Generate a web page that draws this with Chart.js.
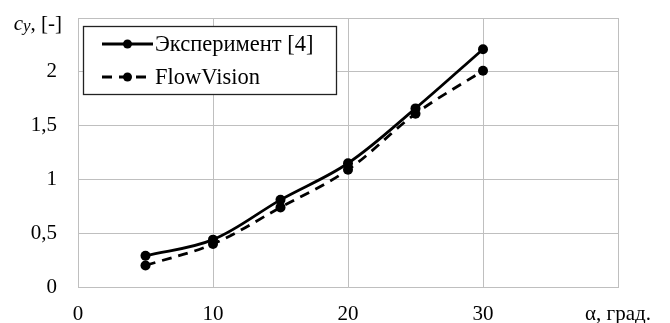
<!DOCTYPE html>
<html>
<head>
<meta charset="utf-8">
<script src="https://cdn.jsdelivr.net/npm/chart.js@4/dist/chart.umd.min.js"></script>
<style>
  html, body { margin: 0; padding: 0; background: #fff; }
  #wrap { width: 670px; height: 323px; }
</style>
</head>
<body>
<div id="wrap"><canvas id="c" width="670" height="323"></canvas></div>
<script>
// Angle of attack, degrees
const alpha = [5, 10, 15, 20, 25, 30];
// Lift coefficient c_y: experiment [4] and FlowVision computation
const cyExperiment = [0.29, 0.44, 0.81, 1.15, 1.66, 2.21];
const cyFlowVision = [0.20, 0.40, 0.74, 1.09, 1.61, 2.01];
// Axis ticks
const xTicks = [0, 10, 20, 30, 40];
const yTicks = [0, 0.5, 1, 1.5, 2, 2.5];
const seriesNames = ['Эксперимент [4]', 'FlowVision'];

const FONT = '"Liberation Serif", "Times New Roman", serif';
const FS = 21;
const LEGEND_FS = 22.5;

const toPoints = (xs, ys) => xs.map((x, i) => ({ x, y: ys[i] }));

// Legend box in the upper-left corner and the italic c_y axis title
const decorations = {
  id: 'decorations',
  afterDraw(chart) {
    const ctx = chart.ctx;
    const area = chart.chartArea;
    const yScale = chart.scales.y;
    ctx.save();

    // y-axis title in place of the top tick label
    const ty = yScale.getPixelForValue(2.5) + 6;
    const rightEdge = area.left - 16;
    ctx.textBaseline = 'middle';
    ctx.fillStyle = '#000';
    ctx.font = FS + 'px ' + FONT;
    const tail = ', [-]';
    const tailW = ctx.measureText(tail).width;
    ctx.font = 'italic ' + FS + 'px ' + FONT;
    const cW = ctx.measureText('c').width;
    ctx.font = 'italic ' + Math.round(FS * 0.8) + 'px ' + FONT;
    const yW = ctx.measureText('y').width;
    const x0 = rightEdge - tailW - yW - cW;
    ctx.textAlign = 'left';
    ctx.font = 'italic ' + FS + 'px ' + FONT;
    ctx.fillText('c', x0, ty);
    ctx.font = 'italic ' + Math.round(FS * 0.8) + 'px ' + FONT;
    ctx.fillText('y', x0 + cW, ty + 3);
    ctx.font = FS + 'px ' + FONT;
    ctx.fillText(tail, x0 + cW + yW, ty);

    // legend box
    const bx = area.left + 5, by = area.top + 8, bw = 253, bh = 68;
    ctx.fillStyle = '#fff';
    ctx.fillRect(bx, by, bw, bh);
    ctx.strokeStyle = '#222';
    ctx.lineWidth = 1.3;
    ctx.strokeRect(bx + 0.5, by + 0.5, bw, bh);

    const rows = [by + 18, by + 51];
    chart.data.datasets.forEach((ds, i) => {
      const ry = rows[i];
      const lx0 = bx + 19, lx1 = bx + 70;
      ctx.strokeStyle = '#000';
      ctx.lineWidth = 2.8;
      ctx.setLineDash(ds.borderDash || []);
      ctx.beginPath();
      ctx.moveTo(lx0, ry);
      ctx.lineTo(lx1, ry);
      ctx.stroke();
      ctx.setLineDash([]);
      ctx.fillStyle = '#000';
      ctx.beginPath();
      ctx.arc((lx0 + lx1) / 2, ry, 4.5, 0, Math.PI * 2);
      ctx.fill();
      ctx.font = LEGEND_FS + 'px ' + FONT;
      ctx.textAlign = 'left';
      ctx.textBaseline = 'middle';
      ctx.fillText(ds.label, lx1 + 2, ry + 1);
    });
    ctx.restore();
  }
};

new Chart(document.getElementById('c'), {
  type: 'scatter',
  data: {
    datasets: [
      {
        label: seriesNames[0],
        data: toPoints(alpha, cyExperiment),
        showLine: true,
        borderColor: '#000',
        backgroundColor: '#000',
        borderWidth: 2.8,
        tension: 0.35,
        pointRadius: 5,
        pointBorderWidth: 0
      },
      {
        label: seriesNames[1],
        data: toPoints(alpha, cyFlowVision),
        showLine: true,
        borderColor: '#000',
        backgroundColor: '#000',
        borderWidth: 2.8,
        borderDash: [10, 7],
        tension: 0.35,
        pointRadius: 5,
        pointBorderWidth: 0
      }
    ]
  },
  options: {
    responsive: false,
    animation: false,
    layout: { padding: { top: 18, right: 52, left: 0, bottom: 0 } },
    plugins: { legend: { display: false }, tooltip: { enabled: false } },
    scales: {
      x: {
        type: 'linear',
        min: 0,
        max: 40,
        afterBuildTicks(scale) { scale.ticks = xTicks.map(v => ({ value: v })); },
        afterFit(scale) {
          scale.height = 36;
          scale.paddingLeft = 0;
          scale.paddingRight = 0;
        },
        grid: { color: '#bfbfbf', lineWidth: 1, drawTicks: false },
        border: { color: '#bfbfbf' },
        ticks: {
          padding: 15,
          color: '#000',
          font: { family: FONT, size: FS },
          maxRotation: 0,
          callback: v => (v === 40 ? 'α, град.' : String(v))
        }
      },
      y: {
        min: 0,
        max: 2.5,
        afterBuildTicks(scale) { scale.ticks = yTicks.map(v => ({ value: v })); },
        afterFit(scale) {
          scale.width = 78;
          scale.paddingTop = 0;
          scale.paddingBottom = 0;
        },
        grid: { color: '#bfbfbf', lineWidth: 1, drawTicks: false },
        border: { color: '#bfbfbf' },
        ticks: {
          padding: 21,
          color: '#000',
          font: { family: FONT, size: FS },
          callback: v => (v === 2.5 ? '' : String(v).replace('.', ','))
        }
      }
    }
  },
  plugins: [decorations]
});
</script>
</body>
</html>
